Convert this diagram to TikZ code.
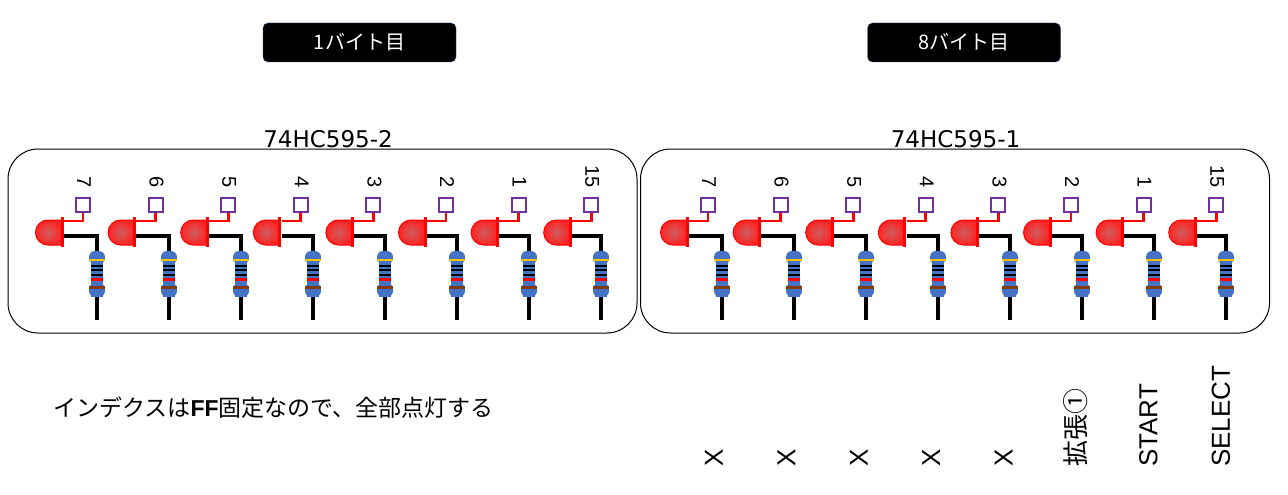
\documentclass[tikz,border=0pt]{standalone}
\usepackage{fontspec}
\setmainfont{Liberation Sans}
\newfontfamily\jp{Noto Sans CJK JP}
\newfontfamily\wide{DejaVu Sans}
\definecolor{resblue}{RGB}{68,114,196}
\definecolor{pinviolet}{RGB}{112,48,160}
\definecolor{boxedge}{RGB}{47,82,143}
\definecolor{bandyellow}{RGB}{255,192,0}
\definecolor{bandbrown}{RGB}{132,60,12}
\definecolor{ledin}{RGB}{205,95,95}
\definecolor{ledout}{RGB}{255,35,35}
\tikzset{
  chip/.style={draw, line width=1pt, rounded corners=30pt, minimum width=629pt, minimum height=184pt},
  chiplabel/.style={anchor=base, font=\wide\fontsize{23}{27}\selectfont},
  bytebox/.style={draw=boxedge, fill=black, text=white, rounded corners=5pt, minimum width=193pt, minimum height=39pt, font=\jp\fontsize{20}{24}\selectfont},
  pinbox/.style={draw=pinviolet, line width=2pt, fill=white, minimum size=14pt, inner sep=0pt},
  pinnum/.style={rotate=-90, anchor=east, inner sep=0pt, font=\fontsize{20}{24}\selectfont},
  ledrim/.style={fill=red, minimum width=3pt, minimum height=30pt, inner sep=0pt},
  resbody/.style={fill=resblue, minimum width=12pt, minimum height=45pt, inner sep=0pt},
  redwire/.style={red, line width=2.8pt},
  blackwire/.style={line width=3.2pt},
  keylabel/.style={rotate=90, anchor=west, inner sep=0pt, font=\fontsize{26}{30}\selectfont},
}
\begin{document}
\begin{tikzpicture}[x=1pt, y=-1pt]
\useasboundingbox (0,0) rectangle (1288,495);
\node[bytebox] (byte1) at (359.5,42.5) {1バイト目};
\node[bytebox] (byte8) at (964,42.5) {8バイト目};
\node[chip] (chip2) at (322.5,241) {};
\node[chip] (chip1) at (955,241) {};
\node[chiplabel] (name2) at (328,147) {74HC595-2};
\node[chiplabel] (name1) at (955.5,147) {74HC595-1};

\foreach \c/\xa in {2/97,1/722}{
  \foreach \i/\n in {0/7,1/6,2/5,3/4,4/3,5/2,6/1,7/15}{
    \pgfmathsetmacro\rx{\xa+72*\i}
    \pgfmathsetmacro\px{\xa-14+72.6*\i}
    \node[pinbox] (p\c\i) at (\px,204.5) {};
    \node[pinnum] (n\c\i) at (\px+1,188) {\n};
    \shade[inner color=ledin, outer color=ledout, draw=red, line width=1pt]
      (\px-21.5,220) -- (\px-35,220) arc[start angle=270, end angle=90, radius=12.5] -- (\px-21.5,245) -- cycle;
    \node[ledrim] (k\c\i) at (\px-21,232) {};
    \node[resbody] (r\c\i) at (\rx,274.5) {};
    \coordinate (e\c\i) at (\rx,320);
    \draw[redwire] (p\c\i.south) |- ([yshift=11pt]k\c\i.east);
    \draw[blackwire] ([yshift=-4pt]k\c\i.east) -| (r\c\i.north);
    \draw[blackwire] (r\c\i.south) -- (e\c\i);
    % bulges and colour bands of the resistor
    \fill[resblue, rounded corners=6pt] (\rx-8,251) rectangle (\rx+8,264);
    \fill[resblue, rounded corners=6pt] (\rx-8,283) rectangle (\rx+8,297);
    \fill[bandyellow] (\rx-8,258.5) rectangle (\rx+8,261);
    \fill[black] (\rx-6,264.5) rectangle (\rx+6,266.5);
    \fill[black] (\rx-6,269) rectangle (\rx+6,271);
    \fill[black] (\rx-6,273.5) rectangle (\rx+6,275.5);
    \fill[red] (\rx-6,278) rectangle (\rx+6,280.5);
    \fill[bandbrown] (\rx-8,285.5) rectangle (\rx+8,288.5);
  }
}

\node[anchor=base west, inner sep=0pt, font=\fontsize{23}{27}\selectfont] (note) at (53,416)
  {{\jp インデクスは}{\bfseries FF}{\jp 固定なので、全部点灯する}};

\foreach \i/\t in {0/X,1/X,2/X,3/X,4/X,5/{\jp 拡張①},6/START,7/SELECT}{
  \pgfmathsetmacro\lx{714+72.4*\i}
  \node[keylabel] (key\i) at (\lx,467) {\t};
}
\end{tikzpicture}
\end{document}
